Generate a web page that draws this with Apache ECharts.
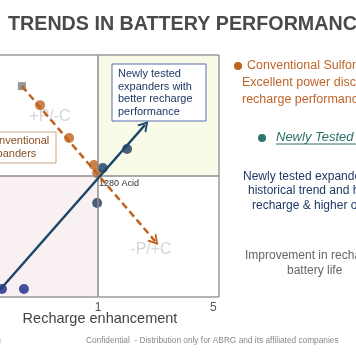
<!DOCTYPE html>
<html><head><meta charset="utf-8">
<script src="https://cdn.jsdelivr.net/npm/echarts@6/dist/echarts.min.js"></script>
<style>html,body{margin:0;padding:0;background:#fff;}#c{width:356px;height:364px;}</style>
</head><body><div id="c"></div>
<script>
// ---- data ----
const xTickValues = [1, 5];
const xAxisName = 'Recharge enhancement';
const conventionalStart = [[-1.64, 4.12]];
const conventionalPoints = [[-1.01, 3.46], [0.0, 2.32], [0.86, 1.38], [0.97, 1.10]];
const newTestedUpper = [[1.17, 1.28], [2.01, 1.94], [0.97, 0.06]];
const newTestedLower = [[-2.33, -2.92], [-1.57, -2.92]];
const conventionalTrend = [[-1.64, 4.12], [2.98, -1.26]];
const newTestedTrend = [[-2.4, -2.95], [2.63, 2.77]];
const quadrantSplit = 1;
const xMin = -2.4, xMax = 5.2, yMin = -3.2, yMax = 5.2;

const FONT = '"Liberation Sans", Arial, sans-serif';
const chevron = 'path://M0,10 L5,0 L10,10 L8.2,10 L5,3.6 L1.8,10 Z';
const borderStyle = {color: '#9a9a9a', width: 1.5, type: 'solid'};

const chart = echarts.init(document.getElementById('c'), null, {renderer: 'canvas'});
chart.setOption({
  animation: false,
  backgroundColor: '#ffffff',
  grid: {left: 0, right: 137, top: 55, bottom: 67, show: false},
  xAxis: {
    type: 'value', min: xMin, max: xMax,
    axisLine: {show: false}, axisTick: {show: false}, splitLine: {show: false},
    axisLabel: {customValues: xTickValues, color: '#555', fontSize: 12, fontFamily: FONT, margin: 5}
  },
  yAxis: {
    type: 'value', min: yMin, max: yMax,
    axisLine: {show: false}, axisTick: {show: false}, splitLine: {show: false}, axisLabel: {show: false}
  },
  series: [
    {
      type: 'scatter', data: [], z: 1, silent: true,
      markArea: {
        silent: true,
        data: [
          [{coord: [quadrantSplit, quadrantSplit], itemStyle: {color: '#f7fbe8'}}, {coord: [xMax, yMax]}],
          [{coord: [xMin, yMin], itemStyle: {color: '#f9f0f1'}}, {coord: [quadrantSplit, quadrantSplit]}]
        ]
      },
      markLine: {
        silent: true, symbol: 'none', label: {show: false},
        lineStyle: {color: '#8c8c8c', width: 1.5, type: 'solid'},
        data: [
          {xAxis: quadrantSplit}, {yAxis: quadrantSplit},
          {yAxis: yMax, lineStyle: borderStyle},
          {yAxis: yMin, lineStyle: borderStyle},
          {xAxis: xMax, lineStyle: borderStyle}
        ]
      }
    },
    {
      type: 'scatter', data: conventionalStart, symbol: 'rect', symbolSize: 8, z: 4,
      itemStyle: {color: '#7d7d7d'}
    },
    {
      type: 'scatter', data: conventionalPoints, symbolSize: 10, z: 4,
      itemStyle: {color: '#c0621f'}
    },
    {
      type: 'scatter', data: newTestedUpper, symbolSize: 10, z: 4,
      itemStyle: {color: '#1c3a5c'}
    },
    {
      type: 'scatter', data: newTestedLower, symbolSize: 10, z: 4,
      itemStyle: {color: '#16248a'}
    },
    {
      type: 'scatter', data: [], z: 3, silent: true,
      markLine: {
        silent: true, label: {show: false},
        symbol: ['none', chevron], symbolSize: [12, 10],
        data: [
          [{coord: conventionalTrend[0], lineStyle: {color: '#c0621f', width: 2.5, type: [7, 4]}}, {coord: conventionalTrend[1]}],
          [{coord: newTestedTrend[0], lineStyle: {color: '#1c4466', width: 2.5, type: 'solid'}}, {coord: newTestedTrend[1]}]
        ]
      }
    }
  ],
  graphic: [
    {type: 'text', left: 8, top: 15, style: {text: 'TRENDS IN BATTERY PERFORMANCE', font: 'bold 19.7px ' + FONT, fill: '#4a4a4a'}},
    // quadrant labels
    {type: 'text', x: 50, y: 117, style: {text: '+P/-C', font: '16px ' + FONT, fill: '#d6d6d6', align: 'center', verticalAlign: 'middle'}},
    {type: 'text', x: 30, y: 250, style: {text: '-P/-C', font: '16px ' + FONT, fill: '#d6d6d6', align: 'center', verticalAlign: 'middle'}},
    {type: 'text', x: 151, y: 250, style: {text: '-P/+C', font: '16px ' + FONT, fill: '#d6d6d6', align: 'center', verticalAlign: 'middle'}},
    {type: 'text', x: 99, y: 184, style: {text: '1280 Acid', font: '9px ' + FONT, fill: '#333', verticalAlign: 'middle'}},
    // boxes
    {type: 'rect', shape: {x: 112, y: 64, width: 94, height: 57}, style: {fill: '#ffffff', stroke: '#5a6cb0', lineWidth: 1}, z: 10},
    {type: 'text', x: 118, y: 68, z: 11, style: {text: 'Newly tested\nexpanders with\nbetter recharge\nperformance', font: '11px ' + FONT, lineHeight: 12.5, fill: '#1f3864'}},
    {type: 'rect', shape: {x: -30, y: 132, width: 86, height: 31}, style: {fill: '#ffffff', stroke: '#c9a485', lineWidth: 1}, z: 10},
    {type: 'text', x: -15, y: 135, z: 11, style: {text: 'Conventional\nexpanders', font: '11px ' + FONT, lineHeight: 12.5, fill: '#8a4e22'}},
    // axis name
    {type: 'text', x: 100, y: 319, style: {text: xAxisName, font: '14.5px ' + FONT, fill: '#444', align: 'center', verticalAlign: 'middle'}},
    // right panel text
    {type: 'circle', shape: {cx: 238, cy: 66, r: 4}, style: {fill: '#c0621f'}},
    {type: 'text', x: 247, y: 66, style: {text: 'Conventional Sulfonated Lignins', font: '12.5px ' + FONT, fill: '#c0652b', verticalAlign: 'middle'}},
    {type: 'text', x: 242, y: 83, style: {text: 'Excellent power discharge but poor', font: '12.5px ' + FONT, fill: '#c0652b', verticalAlign: 'middle'}},
    {type: 'text', x: 242, y: 100, style: {text: 'recharge performance', font: '12.5px ' + FONT, fill: '#c0652b', verticalAlign: 'middle'}},
    {type: 'circle', shape: {cx: 262, cy: 138, r: 4}, style: {fill: '#2e7570'}},
    {type: 'text', x: 276, y: 137, style: {text: 'Newly Tested Expanders', font: 'italic 13px ' + FONT, fill: '#2e6e6b', verticalAlign: 'middle'}},
    {type: 'line', shape: {x1: 276, y1: 144, x2: 356, y2: 144}, style: {stroke: '#2e6e6b', lineWidth: 1}},
    {type: 'text', x: 243, y: 177, style: {text: 'Newly tested expanders break the', font: '12px ' + FONT, fill: '#1f3864', verticalAlign: 'middle'}},
    {type: 'text', x: 248, y: 191, style: {text: 'historical trend and help deliver', font: '12px ' + FONT, fill: '#1f3864', verticalAlign: 'middle'}},
    {type: 'text', x: 252, y: 206, style: {text: 'recharge & higher operation', font: '12px ' + FONT, fill: '#1f3864', verticalAlign: 'middle'}},
    {type: 'text', x: 245, y: 256, style: {text: 'Improvement in recharge leads to', font: '12px ' + FONT, fill: '#666', verticalAlign: 'middle'}},
    {type: 'text', x: 287, y: 271, style: {text: 'battery life', font: '12px ' + FONT, fill: '#666', verticalAlign: 'middle'}},
    // footer
    {type: 'text', x: -3, y: 341, style: {text: 'e', font: '8px ' + FONT, fill: '#999', verticalAlign: 'middle'}},
    {type: 'text', x: 86, y: 341, style: {text: 'Confidential  - Distribution only for ABRG and its affiliated companies', font: '8.3px ' + FONT, fill: '#888', verticalAlign: 'middle'}}
  ]
});
</script></body></html>
